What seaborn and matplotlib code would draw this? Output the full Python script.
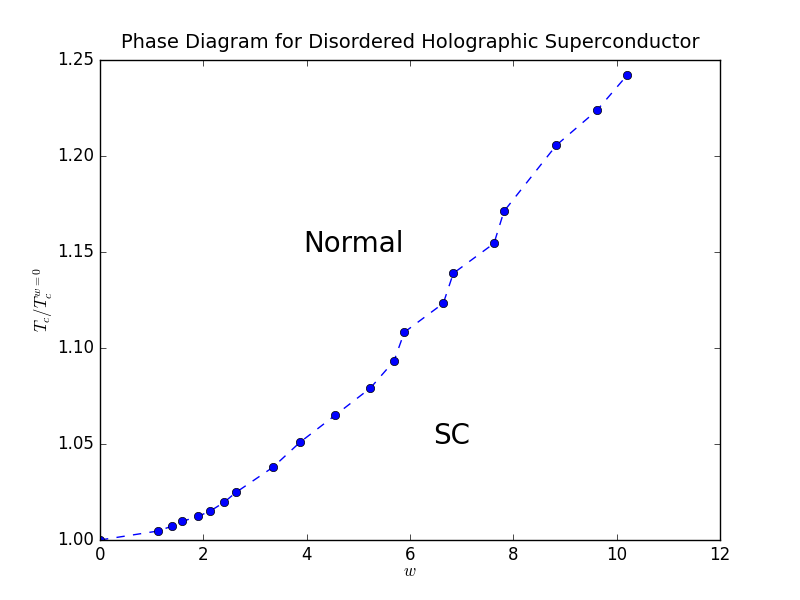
import matplotlib
matplotlib.use("Agg")
import matplotlib.pyplot as plt
import seaborn as sns
import pandas as pd

# disorder strength w and critical temperature ratio
w = [0.0, 1.128, 1.399, 1.593, 1.897, 2.135, 2.400, 2.632, 3.348, 3.871,
     4.548, 5.232, 5.690, 5.890, 6.645, 6.838, 7.626, 7.819, 8.832, 9.619, 10.20]
tc_ratio = [1.000, 1.0047, 1.0073, 1.0097, 1.0123, 1.0151, 1.0196, 1.0248, 1.0379, 1.0509,
            1.0649, 1.0791, 1.0932, 1.1082, 1.1233, 1.1389, 1.1545, 1.1712, 1.2056, 1.2238, 1.2420]

df = pd.DataFrame({'w': w, 'Tc': tc_ratio})

plt.style.use('classic')
fig = plt.figure(figsize=(8, 6), dpi=100, facecolor='white')
ax = fig.add_subplot(111)

sns.lineplot(data=df, x='w', y='Tc', ax=ax, color='b', linestyle='--', linewidth=1.0,
             marker='o', markersize=6, markeredgecolor='k', markeredgewidth=0.5)

ax.text(3.94, 1.15, 'Normal', fontsize=20)
ax.text(6.44, 1.05, 'SC', fontsize=20)

ax.set_xlim(0, 12)
ax.set_ylim(1.0, 1.25)
ax.set_title('Phase Diagram for Disordered Holographic Superconductor', fontsize=14, pad=9)
ax.set_xlabel('$w$', labelpad=-1)
ax.set_ylabel('$T_c/T_c^{w=0}$', labelpad=2)

fig.savefig('out.png', dpi=100, facecolor='white')
